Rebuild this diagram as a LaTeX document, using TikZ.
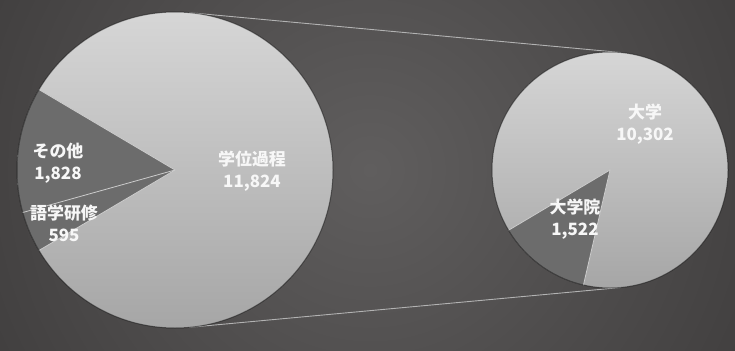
\documentclass[tikz,border=0pt]{standalone}
\usepackage{fontspec}
\newfontfamily\jpfont{Noto Sans CJK JP}
\definecolor{bgin}{HTML}{605E5E}
\definecolor{bgout}{HTML}{242222}
\definecolor{pietop}{HTML}{D6D6D6}
\definecolor{piebot}{HTML}{A6A6A6}
\definecolor{piedark}{HTML}{6C6C6C}
\begin{document}
\begin{tikzpicture}[x=1bp,y=1bp,line join=round,line cap=round,
  lab/.style={text=white!97!black,font=\jpfont\bfseries\fontsize{17}{22}\selectfont,align=center,inner sep=0pt},
  sep/.style={draw=white!80!black,line width=0.8bp},
  rim/.style={draw=black,line width=1bp,opacity=0.45},
  zoomline/.style={draw=white!70!black,line width=0.9bp}]
 	\def\rl{158} \def\rr{118} \def\ta{84.7}
 	\useasboundingbox (0,0) rectangle (735,350);
 	\fill[bgout] (0,0) rectangle (735,350);
 	\begin{scope}
 	\clip (0,0) rectangle (735,350);
 	\shade[inner color=bgin,outer color=bgout] (370,180) circle (820);
 	\end{scope}
 	\coordinate (L) at (175,180);
 	\coordinate (R) at (610,180);
 	% lines from the big pie to the small one
 	\path (L) ++(\ta:\rl) coordinate (lt) (L) ++(-\ta:\rl) coordinate (lb);
 	\path (R) ++(\ta:\rr) coordinate (rt) (R) ++(-\ta:\rr) coordinate (rb);
 	\draw[zoomline] (lt)--(rt) (lb)--(rb);
 	% left pie
 	\shade[top color=pietop,bottom color=piebot] (L) circle (\rl);
 	\fill[piedark] (L) -- ++(149.4:\rl) arc[start angle=149.4,end angle=210.6,radius=\rl] -- cycle;
 	\foreach \a in {149.4,195.6,210.6}
 	\draw[sep] (L) -- ++(\a:\rl);
 	\draw[rim] (L) circle (\rl);
 	% right pie
 	\shade[top color=pietop,bottom color=piebot] (R) circle (\rr);
 	\fill[piedark] (R) -- ++(210.7:\rr) arc[start angle=210.7,end angle=257,radius=\rr] -- cycle;
 	\foreach \a in {210.7,257}
 	\draw[sep] (R) -- ++(\a:\rr);
 	\draw[rim] (R) circle (\rr);
 	% labels
 	\node[lab] (gakui) at (252,179) {学位過程\\11,824};
 	\node[lab] (sonota) at (58,187) {その他\\1,828};
 	\node[lab] (gogaku) at (64,127) {語学研修\\595};
 	\node[lab] (daigaku) at (645,226) {大学\\10,302};
 	\node[lab] (daigakuin) at (575,131) {大学院\\1,522};
\end{tikzpicture}
\end{document}
